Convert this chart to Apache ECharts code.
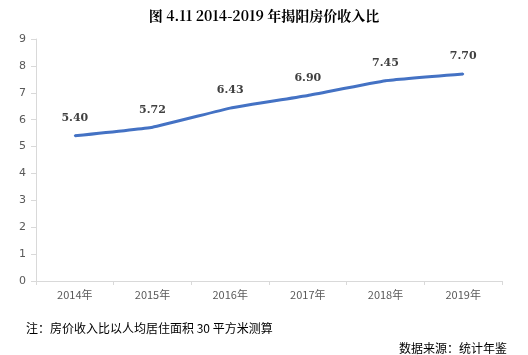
<!DOCTYPE html>
<html><head><meta charset="utf-8">
<script src="https://cdn.jsdelivr.net/npm/echarts@6/dist/echarts.min.js"></script>
<style>html,body{margin:0;padding:0;background:#fff}#c{width:528px;height:355px}</style>
</head><body><div id="c"></div>
<script>
const categories = ['2014年','2015年','2016年','2017年','2018年','2019年'];
const values = [5.40, 5.72, 6.43, 6.90, 7.45, 7.70];
const yTicks = [0,1,2,3,4,5,6,7,8,9];
const titleText = '图 4.11 2014-2019 年揭阳房价收入比';
const noteText = '注：房价收入比以人均居住面积 30 平方米测算';
const sourceText = '数据来源：统计年鉴';

const chart = echarts.init(document.getElementById('c'));
chart.setOption({
  animation: false,
  title: [
    {text: titleText, left: 'center', top: 4, textStyle: {fontFamily: '"Noto Serif CJK SC","Noto Sans CJK SC",serif', fontWeight: 'bold', fontSize: 14, color: '#000'}},
    {text: noteText, left: 21, top: 317, textStyle: {fontFamily: '"Noto Sans CJK SC",sans-serif', fontWeight: 'normal', fontSize: 12, color: '#000'}},
    {text: sourceText, right: 16, top: 337, textStyle: {fontFamily: '"Noto Sans CJK SC",sans-serif', fontWeight: 'normal', fontSize: 12, color: '#000'}}
  ],
  grid: {left: 36, right: 26, top: 39, bottom: 74},
  xAxis: {
    type: 'category', data: categories, boundaryGap: true,
    axisLine: {lineStyle: {color: '#d9d9d9', width: 1}},
    axisTick: {show: true, length: 4, lineStyle: {color: '#d9d9d9'}},
    axisLabel: {color: '#595959', fontSize: 11, margin: 8, fontFamily: '"Noto Sans CJK SC",sans-serif'}
  },
  yAxis: {
    type: 'value', min: yTicks[0], max: yTicks[yTicks.length-1], interval: 1,
    axisLine: {show: true, lineStyle: {color: '#d9d9d9', width: 1}},
    axisTick: {show: true, length: 5, inside: false, lineStyle: {color: '#d9d9d9'}},
    splitLine: {show: false},
    axisLabel: {color: '#595959', fontSize: 11, margin: 10, fontFamily: 'DejaVu Sans, sans-serif'}
  },
  series: [{
    type: 'line', data: values, smooth: 0.1, symbol: 'circle', symbolSize: 2, showSymbol: true,
    itemStyle: {color: '#4472C4'},
    lineStyle: {color: '#4472C4', width: 3},
    labelLayout: {hideOverlap: false},
    label: {show: true, position: 'top', distance: 11, color: '#404040', fontWeight: 'bold', fontSize: 11,
      fontFamily: '"DejaVu Serif", serif', formatter: p => Number(p.value).toFixed(2)}
  }]
});
</script></body></html>
